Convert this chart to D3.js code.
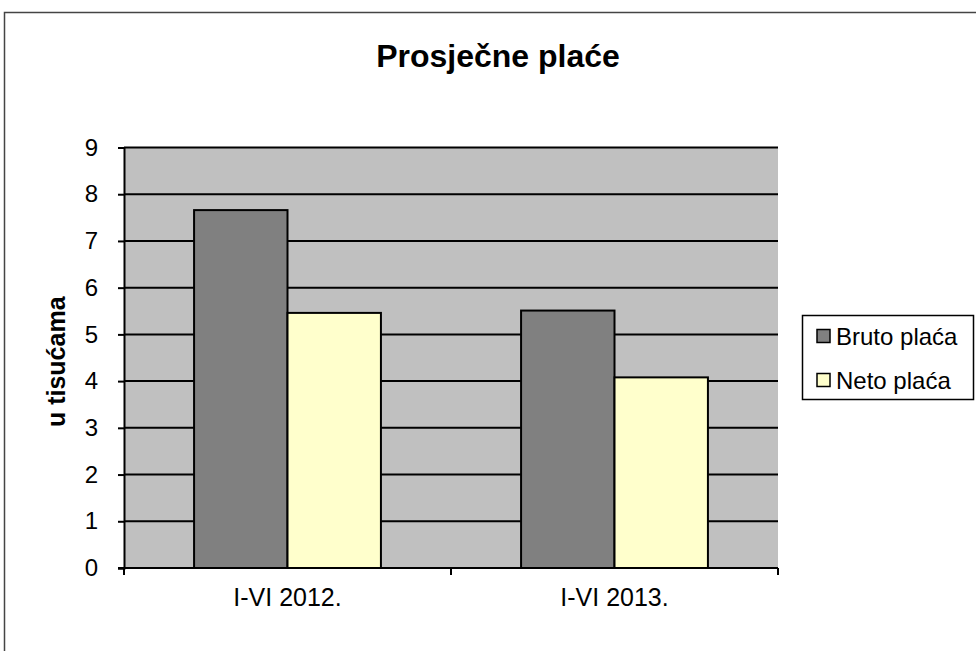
<!DOCTYPE html>
<html>
<head>
<meta charset="utf-8">
<script src="https://cdn.jsdelivr.net/npm/d3@7"></script>
<style>
  body { margin: 0; background: #fff; }
  svg { display: block; font-family: "Liberation Sans", Arial, sans-serif; }
</style>
</head>
<body>
<svg width="976" height="651"></svg>
<script>
const kategorije = ["I-VI 2012.", "I-VI 2013."];
const serije = ["Bruto plaća", "Neto plaća"];
const bruto = [7.66, 5.51];
const neto = [5.46, 4.08];
const boje = ["#808080", "#FFFFCC"];
const yTicks = [0, 1, 2, 3, 4, 5, 6, 7, 8, 9];

const podaci = kategorije.map((k, i) => ({ kat: k, vrijednosti: [bruto[i], neto[i]] }));

const svg = d3.select("svg");
const plot = { left: 124, right: 778, top: 147.5, bottom: 568 };

// vanjski okvir
svg.append("rect")
  .attr("x", 4.5).attr("y", 12.5)
  .attr("width", 1000).attr("height", 700)
  .attr("fill", "#fff")
  .attr("stroke", "#444").attr("stroke-width", 1.5);

const x = d3.scaleBand()
  .domain(kategorije)
  .range([plot.left, plot.right]);

const x1 = d3.scaleBand()
  .domain(serije)
  .range([0, x.bandwidth()])
  .paddingOuter(0.75);

const y = d3.scaleLinear()
  .domain([0, 9])
  .range([plot.bottom, plot.top]);

svg.append("rect")
  .attr("x", plot.left).attr("y", plot.top)
  .attr("width", plot.right - plot.left).attr("height", plot.bottom - plot.top)
  .attr("fill", "#C0C0C0");

// mreža
svg.append("g")
  .selectAll("line")
  .data(yTicks.filter(d => d > 0))
  .join("line")
  .attr("x1", plot.left).attr("x2", plot.right)
  .attr("y1", d => y(d)).attr("y2", d => y(d))
  .attr("stroke", "#000").attr("stroke-width", 2);

// stupci
svg.append("g")
  .selectAll("g")
  .data(podaci)
  .join("g")
  .attr("transform", d => `translate(${x(d.kat)},0)`)
  .selectAll("rect")
  .data(d => d.vrijednosti.map((v, i) => ({ serija: serije[i], v, i })))
  .join("rect")
  .attr("x", d => x1(d.serija))
  .attr("width", x1.bandwidth())
  .attr("y", d => y(d.v))
  .attr("height", d => y(0) - y(d.v))
  .attr("fill", d => boje[d.i])
  .attr("stroke", "#000").attr("stroke-width", 2);

// osi
const yAxis = svg.append("g")
  .attr("transform", `translate(${plot.left},0)`)
  .call(d3.axisLeft(y).tickValues(yTicks).tickSize(6).tickPadding(20));
yAxis.select(".domain").attr("stroke", "#000").attr("stroke-width", 2);
yAxis.selectAll(".tick line").attr("stroke", "#000").attr("stroke-width", 2);
yAxis.selectAll("text").attr("font-size", 24).attr("fill", "#000")
  .attr("font-family", "Liberation Sans, Arial, sans-serif");

const xAxis = svg.append("g")
  .attr("transform", `translate(0,${plot.bottom})`)
  .call(d3.axisBottom(x).tickSize(0).tickPadding(20));
xAxis.select(".domain").remove();
xAxis.selectAll("text").attr("font-size", 25).attr("fill", "#000")
  .attr("font-family", "Liberation Sans, Arial, sans-serif");

svg.append("line")
  .attr("x1", plot.left - 6).attr("x2", plot.right)
  .attr("y1", plot.bottom).attr("y2", plot.bottom)
  .attr("stroke", "#000").attr("stroke-width", 2);

svg.append("g")
  .selectAll("line")
  .data([plot.left, x(kategorije[1]), plot.right])
  .join("line")
  .attr("x1", d => d).attr("x2", d => d)
  .attr("y1", plot.bottom).attr("y2", plot.bottom + 7)
  .attr("stroke", "#000").attr("stroke-width", 2);

// naslov
svg.append("text")
  .attr("x", 498).attr("y", 67)
  .attr("text-anchor", "middle")
  .attr("font-size", 32).attr("font-weight", "bold")
  .text("Prosječne plaće");

svg.append("text")
  .attr("transform", `translate(65,${(plot.top + plot.bottom) / 2 + 4}) rotate(-90)`)
  .attr("text-anchor", "middle")
  .attr("font-size", 25).attr("font-weight", "bold")
  .text("u tisućama");

// legenda
const leg = svg.append("g");
leg.append("rect")
  .attr("x", 802.5).attr("y", 315.5)
  .attr("width", 171).attr("height", 84)
  .attr("fill", "#fff").attr("stroke", "#000").attr("stroke-width", 1.5);

const stavke = leg.selectAll("g")
  .data(serije)
  .join("g")
  .attr("transform", (d, i) => `translate(817,${336 + i * 44})`);
stavke.append("rect")
  .attr("x", 0).attr("y", -6.5)
  .attr("width", 13).attr("height", 13)
  .attr("fill", (d, i) => boje[i])
  .attr("stroke", "#000").attr("stroke-width", 1.5);
stavke.append("text")
  .attr("x", 19).attr("y", 8.5)
  .attr("font-size", 24)
  .text(d => d);
</script>
</body>
</html>
